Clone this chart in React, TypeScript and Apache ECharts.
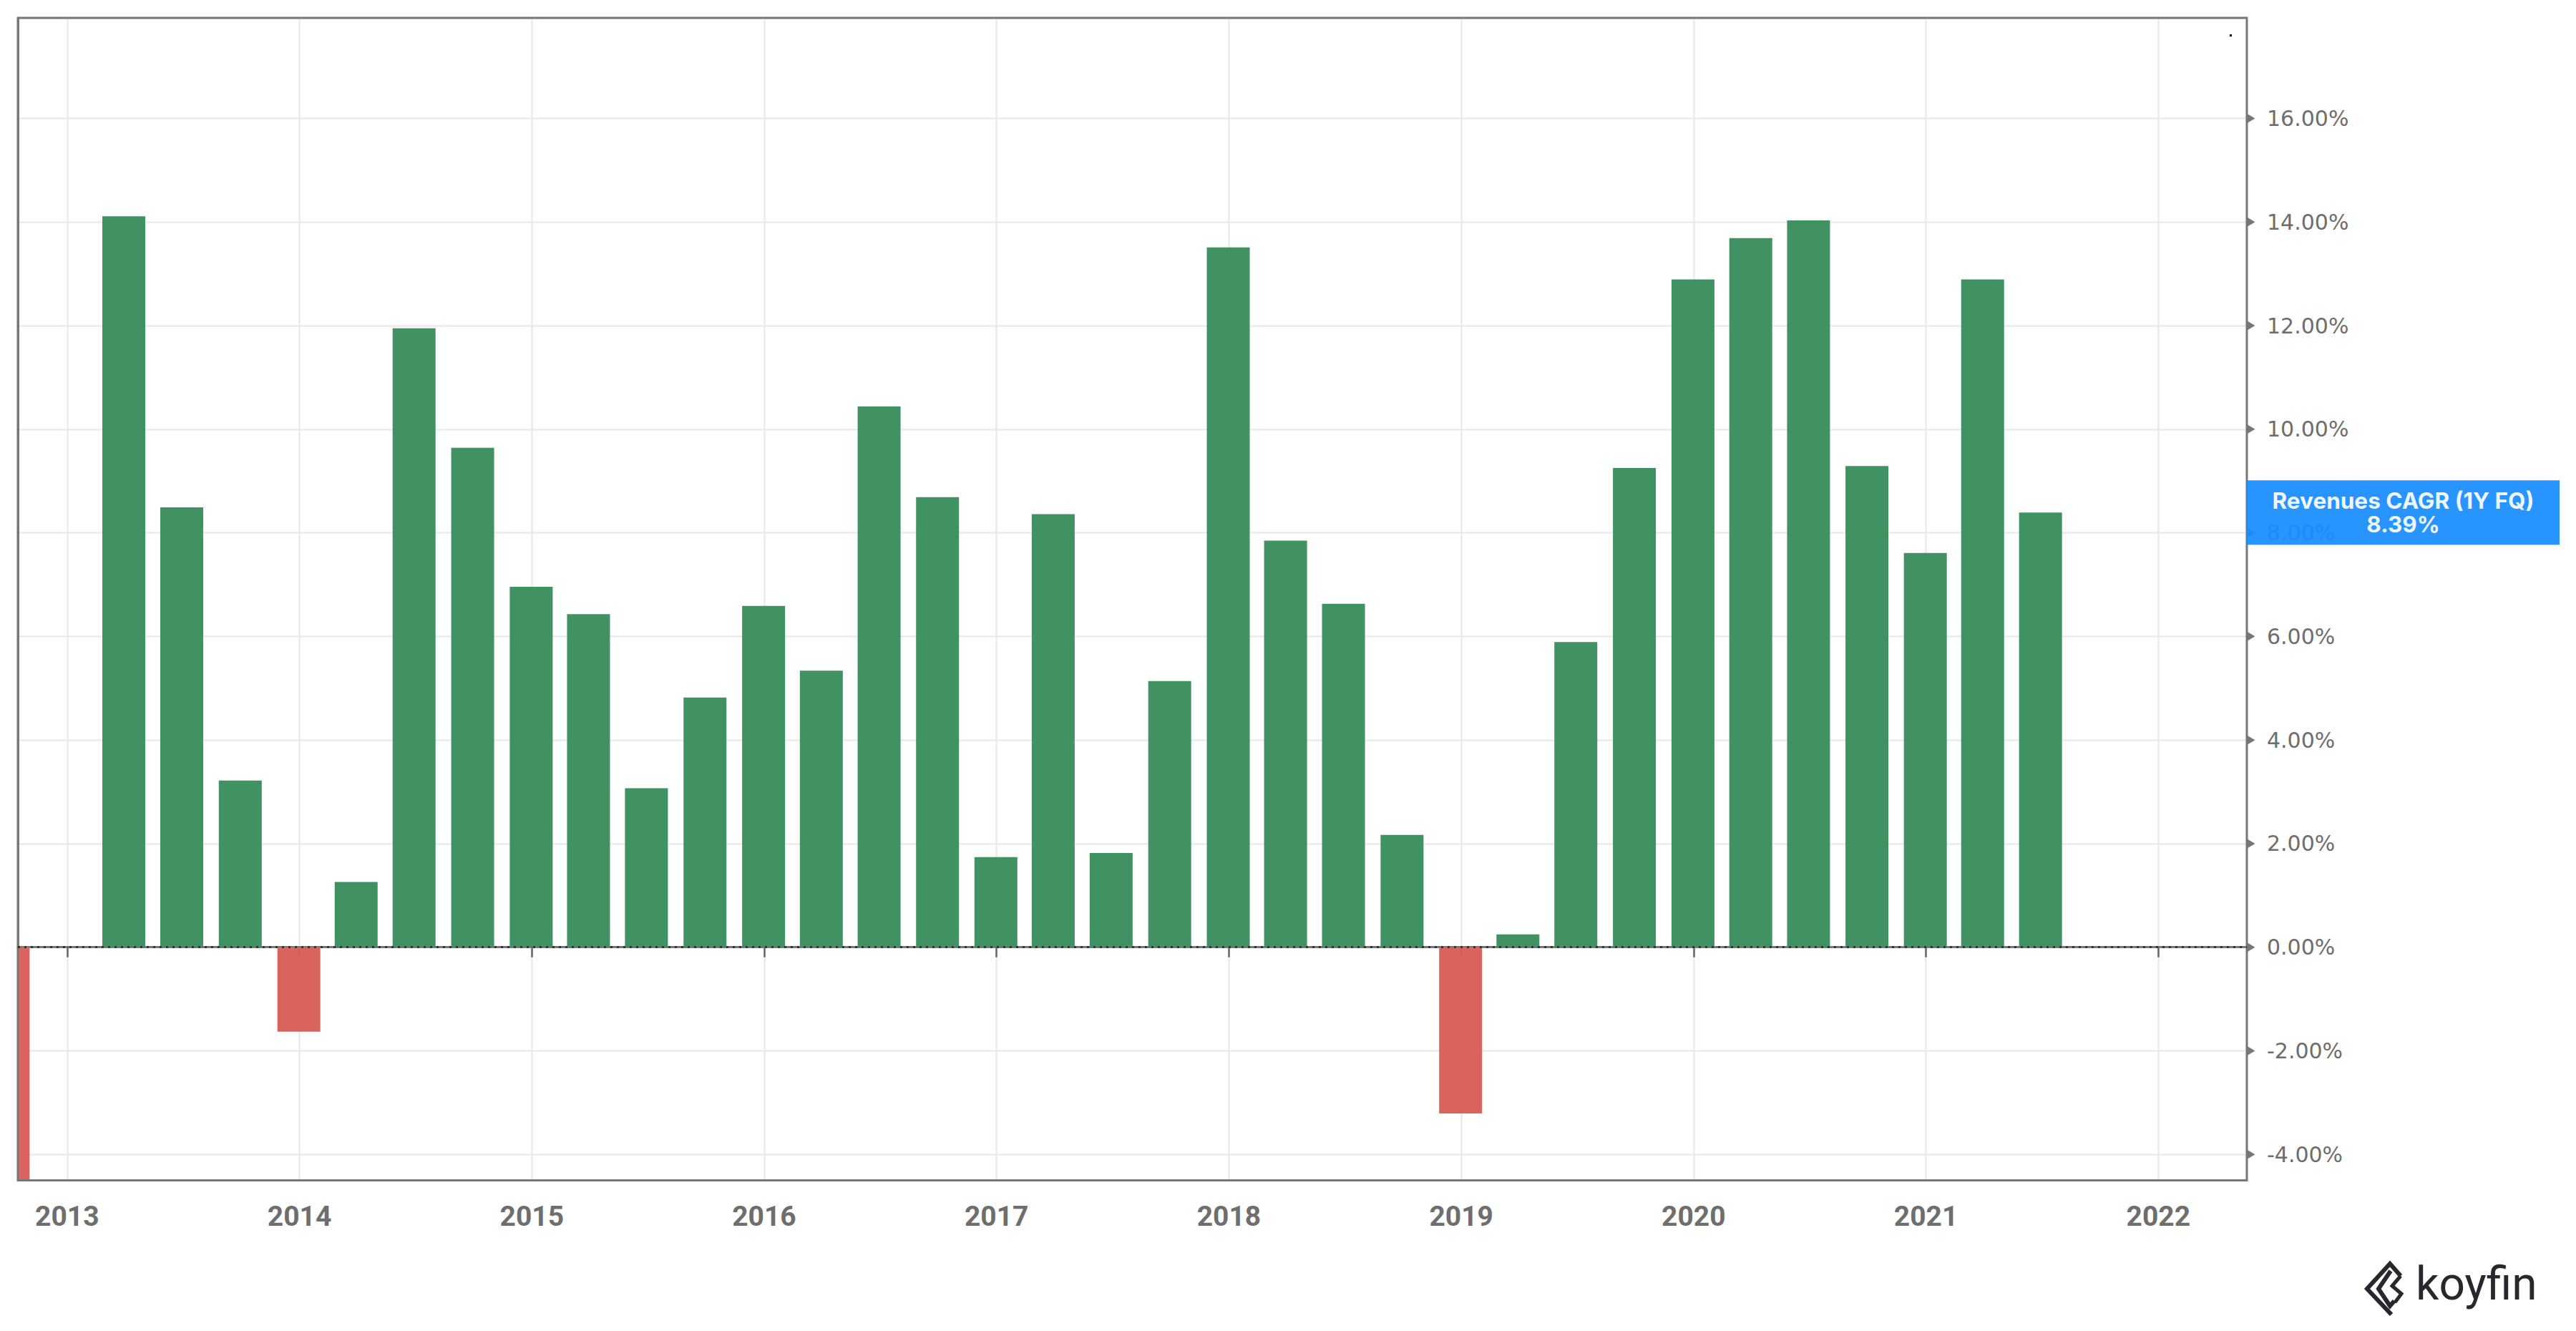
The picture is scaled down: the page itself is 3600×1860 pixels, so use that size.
import React, { useEffect, useRef } from "react";
import * as echarts from "echarts";

// ---- data ----
const DATES: string[] = [
  "2012-09-30",
  "2013-03-31", "2013-06-30", "2013-09-30", "2013-12-31",
  "2014-03-31", "2014-06-30", "2014-09-30", "2014-12-31",
  "2015-03-31", "2015-06-30", "2015-09-30", "2015-12-31",
  "2016-03-31", "2016-06-30", "2016-09-30", "2016-12-31",
  "2017-03-31", "2017-06-30", "2017-09-30", "2017-12-31",
  "2018-03-31", "2018-06-30", "2018-09-30", "2018-12-31",
  "2019-03-31", "2019-06-30", "2019-09-30", "2019-12-31",
  "2020-03-31", "2020-06-30", "2020-09-30", "2020-12-31",
  "2021-03-31", "2021-06-30",
];
const VALUES: number[] = [
  -5.5,
  14.11, 8.49, 3.22, -1.63,
  1.26, 11.95, 9.64, 6.96,
  6.43, 3.07, 4.82, 6.59,
  5.34, 10.44, 8.69, 1.74,
  8.36, 1.82, 5.14, 13.51,
  7.85, 6.63, 2.17, -3.21,
  0.25, 5.89, 9.25, 12.89,
  13.69, 14.03, 9.29, 7.61,
  12.89, 8.39,
];
const YEAR_TICKS: number[] = [2013, 2014, 2015, 2016, 2017, 2018, 2019, 2020, 2021, 2022];
const Y_TICKS: number[] = [-4, -2, 0, 2, 4, 6, 8, 10, 12, 14, 16];
const SERIES_NAME = "Revenues CAGR (1Y FQ)";
const X_MIN = 2012.788;
const X_MAX = 2022.381;
const Y_MIN = -4.5;
const Y_MAX = 17.94;

const GREEN = "#3b8e5d";
const RED = "#d85f59";
const GRAY_TEXT = "#6e6e6e";
const BAR_WIDTH = 60;

function toYear(s: string): number {
  const [y, m, d] = s.split("-").map(Number);
  const t = Date.UTC(y, m - 1, d);
  const a = Date.UTC(y, 0, 1);
  const b = Date.UTC(y + 1, 0, 1);
  return y + (t - a) / (b - a);
}

export default function App() {
  const ref = useRef<HTMLDivElement>(null);
  useEffect(() => {
    if (!ref.current) return;
    const chart = echarts.init(ref.current, null, { renderer: "svg" });
    const last = VALUES[VALUES.length - 1];
    const barData = DATES.map((d, i) => [toYear(d), VALUES[i]]);

    const renderBar = (params: any, api: any) => {
      const xv = api.value(0);
      const v = api.value(1);
      const top = api.coord([xv, v]);
      const base = api.coord([xv, 0]);
      const cs = params.coordSys;
      const rect = echarts.graphic.clipRectByRect(
        {
          x: top[0] - BAR_WIDTH / 2,
          y: Math.min(top[1], base[1]),
          width: BAR_WIDTH,
          height: Math.abs(base[1] - top[1]),
        },
        { x: cs.x, y: cs.y, width: cs.width, height: cs.height }
      );
      if (!rect) return null;
      return {
        type: "rect",
        shape: rect,
        style: { fill: v >= 0 ? GREEN : RED, opacity: 0.97 },
      };
    };

    const option: any = {
      animation: false,
      backgroundColor: "#ffffff",
      grid: {
        left: 25,
        right: 460,
        top: 25,
        bottom: 210.5,
        show: true,
        borderColor: "#777777",
        borderWidth: 3,
        backgroundColor: "transparent",
        z: 4,
      },
      xAxis: [
        {
          type: "value",
          min: X_MIN,
          max: X_MAX,
          minInterval: 1,
          maxInterval: 1,
          axisLine: { show: true, lineStyle: { color: "#777777", width: 3 } },
          axisTick: {
            show: true,
            customValues: YEAR_TICKS,
            length: 14,
            lineStyle: { color: "#666666", width: 2.5 },
          },
          axisLabel: {
            customValues: YEAR_TICKS,
            formatter: (v: number) =>
              Math.abs(v - Math.round(v)) < 1e-6 ? String(Math.round(v)) : "",
            margin: 31,
            fontFamily: "Roboto",
            fontWeight: "bold",
            fontSize: 39,
            color: GRAY_TEXT,
          },
          splitLine: { show: true, lineStyle: { color: "#ebebeb", width: 2.5 } },
        },
        { type: "value", min: 0, max: 1, show: false },
      ],
      yAxis: {
        type: "value",
        position: "right",
        min: Y_MIN,
        max: Y_MAX,
        minInterval: 2,
        maxInterval: 2,
        axisLine: { show: true, lineStyle: { color: "#777777", width: 3 } },
        axisTick: { show: false },
        axisLabel: {
          customValues: Y_TICKS,
          formatter: (v: number) =>
            Math.abs(v / 2 - Math.round(v / 2)) < 1e-6 ? v.toFixed(2) + "%" : "",
          margin: 28,
          fontFamily: "DejaVu Sans",
          fontSize: 30,
          color: GRAY_TEXT,
        },
        splitLine: { show: true, lineStyle: { color: "#ebebeb", width: 2.5 } },
      },
      series: [
        {
          type: "custom",
          name: SERIES_NAME,
          xAxisIndex: 0,
          yAxisIndex: 0,
          renderItem: renderBar,
          encode: { x: 0, y: 1 },
          data: barData,
          silent: true,
          z: 2,
        },
        {
          type: "scatter",
          xAxisIndex: 1,
          yAxisIndex: 0,
          data: Y_TICKS.map((v) => [1, v]),
          symbol: "triangle",
          symbolRotate: -90,
          symbolSize: [13, 11],
          symbolOffset: [6, 0],
          itemStyle: { color: "#777777", opacity: 1 },
          clip: false,
          silent: true,
          z: 5,
          markLine: {
            silent: true,
            symbol: ["none", "none"],
            label: { show: false },
            lineStyle: { color: "#333333", width: 3, type: [3, 6], opacity: 1 },
            data: [{ yAxis: 0 }],
          },
        },
        {
          type: "scatter",
          xAxisIndex: 1,
          yAxisIndex: 0,
          data: [[1, last]],
          symbol: "rect",
          symbolSize: [437, 90],
          symbolOffset: [218.5, 0],
          itemStyle: { color: "rgba(24,140,255,0.93)", opacity: 1 },
          label: {
            show: true,
            position: "inside",
            formatter: () => SERIES_NAME + "\n" + last.toFixed(2) + "%",
            color: "#eef6ff",
            fontFamily: "Inter",
            fontWeight: "bold",
            fontSize: 31.5,
            lineHeight: 33,
            align: "center",
          },
          clip: false,
          silent: true,
          z: 10,
        },
      ],
      graphic: [
        { type: "rect", shape: { x: 3116, y: 48, width: 3, height: 3 }, style: { fill: "#000" }, silent: true },
        {
          type: "polyline",
          shape: { points: [[3355, 1783], [3340, 1766], [3308, 1801], [3342, 1837]] },
          style: { stroke: "#25282c", lineWidth: 6, fill: null },
          silent: true,
        },
        {
          type: "polyline",
          shape: { points: [[3341, 1776], [3324, 1801], [3340, 1825], [3346, 1818]] },
          style: { stroke: "#25282c", lineWidth: 6, fill: null },
          silent: true,
        },
        {
          type: "polyline",
          shape: { points: [[3355, 1783], [3343, 1797], [3356, 1808], [3347, 1820]] },
          style: { stroke: "#25282c", lineWidth: 5, fill: null },
          silent: true,
        },
        {
          type: "text",
          x: 3376,
          y: 1794,
          style: {
            text: "koyfin",
            font: "400 64px Roboto",
            fill: "#25282c",
            textAlign: "left",
            textVerticalAlign: "middle",
          },
          silent: true,
        },
      ],
    };
    chart.setOption(option);
    return () => chart.dispose();
  }, []);
  return (
    <div
      ref={ref}
      style={{ position: "fixed", left: 0, top: 0, width: 3600, height: 1860, background: "#fff" }}
    />
  );
}
